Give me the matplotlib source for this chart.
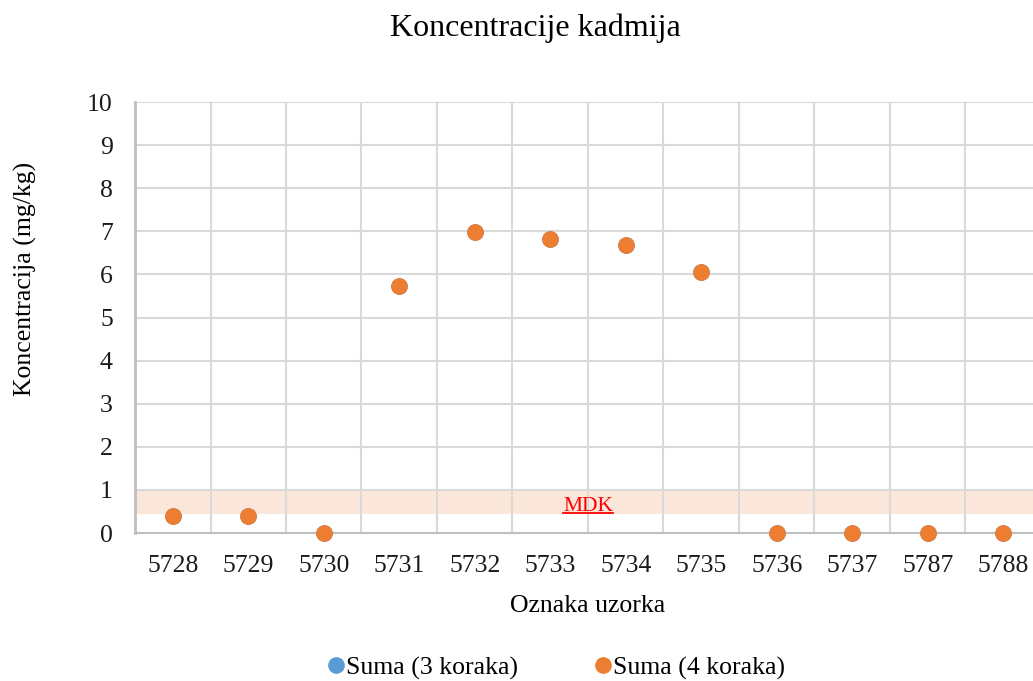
import numpy as np
import matplotlib.pyplot as plt
from matplotlib.lines import Line2D

# Sample labels and cadmium concentrations (mg/kg)
samples = ["5728", "5729", "5730", "5731", "5732", "5733",
           "5734", "5735", "5736", "5737", "5787", "5788"]
suma_3 = [0.40, 0.40, 0.0, 5.72, 6.98, 6.83, 6.68, 6.05, 0.0, 0.0, 0.0, 0.0]
suma_4 = [0.40, 0.40, 0.0, 5.72, 6.98, 6.83, 6.68, 6.05, 0.0, 0.0, 0.0, 0.0]

# MDK band limits (mg/kg)
mdk_low = 0.45
mdk_high = 1.0

plt.rcParams["font.family"] = ["Liberation Serif", "DejaVu Serif"]

fig = plt.figure(figsize=(10.33, 6.81), dpi=100)
ax = fig.add_axes([0.1307, 0.2173, 0.877, 0.6329])

x = np.arange(len(samples))

ax.axhspan(mdk_low, mdk_high, color="#ED7D31", alpha=0.18, lw=0, zorder=0)
mdk_txt = ax.text((len(samples) - 1) / 2, 0.51, "MDK", color="#FF0000",
                  fontsize=15.5, ha="center", va="baseline", zorder=3)

ax.plot(x, suma_3, "o", color="#5B9BD5", markersize=11, label="Suma (3 koraka)",
        zorder=4, clip_on=False)
ax.plot(x, suma_4, "o", color="#ED7D31", markersize=11, label="Suma (4 koraka)",
        zorder=5, clip_on=False)

ax.set_xlim(-0.5, len(samples) - 0.5)
ax.set_ylim(0, 10)
ax.set_yticks(range(0, 11))
ax.set_xticks(x)
ax.set_xticklabels(samples)
ax.set_xticks(x[:-1] + 0.5, minor=True)

ax.grid(True, axis="y", color="#D9D9D9", linewidth=1.5, zorder=1)
ax.grid(True, axis="x", which="minor", color="#D9D9D9", linewidth=1.5, zorder=1)
ax.set_axisbelow(True)

for side in ["top", "right"]:
    ax.spines[side].set_visible(False)
ax.spines["left"].set_color("#BFBFBF")
ax.spines["left"].set_linewidth(2)
ax.spines["bottom"].set_color("#BFBFBF")
ax.spines["bottom"].set_linewidth(1.5)

ax.tick_params(axis="both", which="both", length=0, labelsize=18.5, labelcolor="#1a1a1a")
ax.tick_params(axis="y", pad=16)
ax.tick_params(axis="x", pad=16)

ax.set_xlabel("Oznaka uzorka", fontsize=18.5, labelpad=13)
fig.text(25 / 1033, 1 - 279 / 681, "Koncentracija (mg/kg)", fontsize=18.5,
         rotation=90, ha="center", va="center")
fig.text(0.518, 1 - 28 / 681, "Koncentracije kadmija", fontsize=23,
         ha="center", va="center")

fig.legend(loc="center", bbox_to_anchor=(0.530, 1 - 668 / 681), ncol=2, frameon=False,
           fontsize=18.5, handletextpad=-0.6, columnspacing=2.3, markerscale=1.0)

# underline the MDK label just below its baseline
fig.canvas.draw()
bb = mdk_txt.get_window_extent()
base_y = ax.transData.transform((0, 0.51))[1]
fig.add_artist(Line2D([bb.x0 / fig.bbox.width, bb.x1 / fig.bbox.width],
                      [(base_y - 2) / fig.bbox.height] * 2,
                      color="#FF0000", linewidth=1.3))

fig.savefig("out.png", dpi=100)
